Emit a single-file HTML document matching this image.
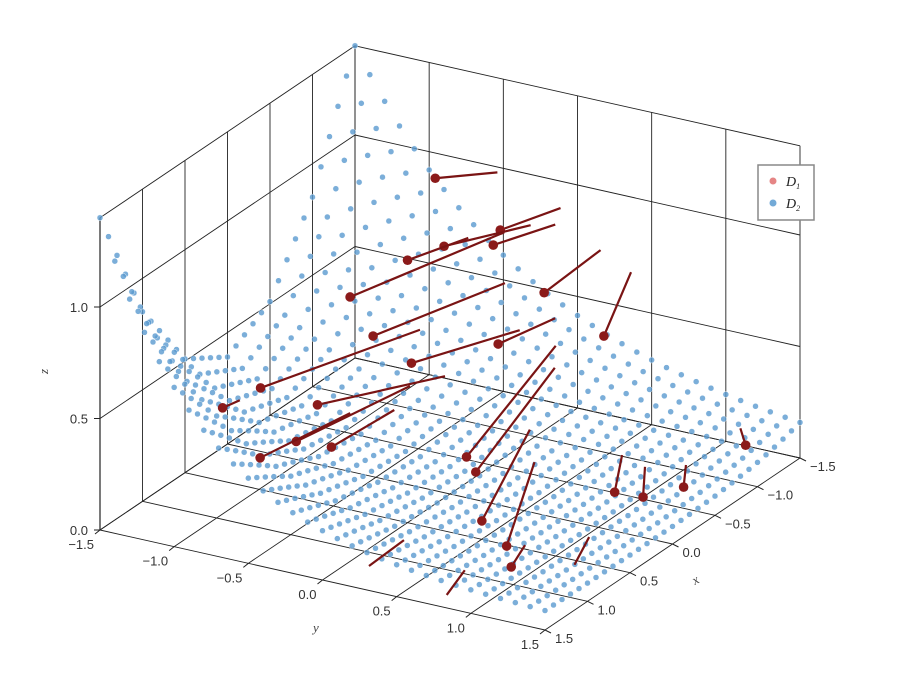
<!DOCTYPE html>
<html><head><meta charset="utf-8"><style>
body{margin:0;background:#fff}
svg{display:block;font-family:"Liberation Sans",sans-serif}
</style></head><body>
<svg id="chart" width="900" height="675" viewBox="0 0 900 675" xmlns="http://www.w3.org/2000/svg">
<g id="grid"></g>
<g id="blue"></g>
<g id="red"></g>
<g id="labels"></g>
<text x="313" y="632" font-family="Liberation Serif" font-style="italic" font-size="13" fill="#444">y</text>
<text x="695" y="585" font-family="Liberation Serif" font-style="italic" font-size="13" fill="#444" transform="rotate(-30 695 585)">x</text>
<text x="48" y="374" font-family="Liberation Serif" font-style="italic" font-size="13" fill="#444" transform="rotate(-90 48 374)">z</text>
<g>
<rect x="758" y="165" width="56" height="55" fill="#fff" stroke="#888" stroke-width="1.5"/>
<circle cx="773" cy="181" r="3.5" fill="#e07070" opacity="0.85"/>
<text x="786" y="186" font-family="Liberation Serif" font-style="italic" font-size="14" fill="#222">D<tspan font-size="8" dy="3">1</tspan></text>
<circle cx="773" cy="203" r="3.5" fill="#5b9bd0" opacity="0.85"/>
<text x="786" y="208" font-family="Liberation Serif" font-style="italic" font-size="14" fill="#222">D<tspan font-size="8" dy="3">2</tspan></text>
</g>
</svg>
<script>
// ---- data ----
const xTicks = [-1.5,-1.0,-0.5,0.0,0.5,1.0,1.5];
const yTicks = [-1.5,-1.0,-0.5,0.0,0.5,1.0,1.5];
const zTicks = [0.0,0.5,1.0];
const zTop = 1.4;
// surface profile anchors (read at x = -1.5,-1,...,1.5)
const anchorX = [-1.5,-1.0,-0.5,0.0,0.5,1.0,1.5];
const ampAtX = [1.33,0.78,0.44,0.32,0.44,0.78,1.33];
const decayAtX = [0.9,1.0,1.1,1.2,1.3,1.4,1.45];
const zFloor = 0.07;
const gridStep = 0.1;
const redX = [-1.17,-0.975,-0.89,-1.05,-0.60,0.05,-1.16,-1.06,-0.09,-0.645,-0.14,0.92,1.0,0.39,0.64,0.61,0.96,0.05,0.22,-0.07,-0.09,-0.34,-1.07,0.55,0.66,0.92,1.18,1.33,0.56];
const redY = [-0.77,-0.22,-0.55,-0.31,-0.63,-0.645,-0.03,0.43,-0.57,-0.045,-0.34,-0.75,-0.96,-0.67,-0.67,-0.45,-0.73,0.14,0.30,1.07,1.25,1.38,1.38,0.53,0.76,0.94,0.13,0.74,1.16];
const redZ = [1.0,0.9,0.8,0.8,0.8,0.8,0.6,0.5,0.6,0.5,0.5,0.6,0.5,0.4,0.3,0.3,0.3,0.2,0.2,0.15,0.15,0.15,0.15,0.1,0.05,0.05,0.0,0.0,0.0];
const endX = [-1.43,-1.44,-1.42,-1.5,-1.07,-1.25,-1.30,-1.10,-1.17,-1.15,-0.89,-0.31,0.85,-0.36,-0.42,-0.06,0.11,-0.79,-0.50,-0.14,-0.20,-0.49,-1.13,0.09,0.21,0.74,1.03,1.10,0.30];
const endY = [-0.50,-0.08,-0.27,-0.15,-0.49,-0.35,0.27,0.59,-0.30,0.05,-0.04,-0.38,-0.93,-0.24,-0.51,-0.41,-0.61,0.26,0.42,1.08,1.20,1.31,1.31,0.59,0.69,0.93,0.28,0.73,1.11];
const endZ = [1.0,0.9,0.8,0.8,0.8,0.8,0.8,0.8,0.6,0.5,0.5,0.6,0.5,0.4,0.3,0.3,0.3,0.5,0.5,0.3,0.25,0.2,0.2,0.4,0.3,0.1,0.1,0.05,0.05];
const redVisible = [1,1,1,1,1,1,1,1,1,1,1,1,1,1,1,1,1,1,1,1,1,1,1,1,1,1,0,0,0];

// ---- projection ----
function proj(x,y,z){
  const u=(y+1.5)/3, v=(1.5-x)/3;
  return [100+445*u+255*v, 530+100*u-172*v-223*z];
}
function lerpAnchor(arr,x){
  const t=(x-anchorX[0])/(anchorX[1]-anchorX[0]);
  const i=Math.max(0,Math.min(anchorX.length-2,Math.floor(t)));
  const f=t-i; return arr[i]*(1-f)+arr[i+1]*f;
}
const NS='http://www.w3.org/2000/svg';
function mk(tag,attrs,parent){const e=document.createElementNS(NS,tag);for(const k in attrs)e.setAttribute(k,attrs[k]);parent.appendChild(e);return e;}
function line(p,q,parent,w,c){return mk('line',{x1:p[0],y1:p[1],x2:q[0],y2:q[1],stroke:c||'#222','stroke-width':w||1},parent);}

const G=document.getElementById('grid');
yTicks.forEach(y=>{const l=line(proj(1.5,y,0),proj(-1.5,y,0),G,0.9);

});
xTicks.forEach(x=>{const l=line(proj(x,-1.5,0),proj(x,1.5,0),G,0.9);

});
yTicks.forEach(y=>{const l=line(proj(-1.5,y,0),proj(-1.5,y,zTop),G,0.9);

});
xTicks.forEach(x=>{const l=line(proj(x,-1.5,0),proj(x,-1.5,zTop),G,0.9);

});
zTicks.concat([zTop]).forEach(z=>{
  const a=line(proj(-1.5,-1.5,z),proj(-1.5,1.5,z),G,0.9);
  
  
  const b=line(proj(1.5,-1.5,z),proj(-1.5,-1.5,z),G,0.9);
  
  
});
const za=line(proj(1.5,-1.5,0),proj(1.5,-1.5,zTop),G,1.2);



const L=document.getElementById('labels');
function fmt(v){return (v<0?'\u2212':'')+Math.abs(v).toFixed(1);}
yTicks.forEach(y=>{const p=proj(1.5,y,0);
  line(p,[p[0]-5,p[1]+4],L,1);
  const t=mk('text',{x:p[0]-6,y:p[1]+19,'text-anchor':'end','font-size':13,fill:'#333'},L);t.textContent=fmt(y);
  
  });
xTicks.forEach(x=>{const p=proj(x,1.5,0);
  line(p,[p[0]+6,p[1]+3],L,1);
  const t=mk('text',{x:p[0]+10,y:p[1]+13,'text-anchor':'start','font-size':13,fill:'#333'},L);t.textContent=fmt(x);
  
  });
zTicks.forEach(z=>{const p=proj(1.5,-1.5,z);
  line(p,[p[0]-6,p[1]],L,1);
  const t=mk('text',{x:p[0]-12,y:p[1]+5,'text-anchor':'end','font-size':13,fill:'#333'},L);t.textContent=fmt(z);
  
  });

// blue surface points
const B=document.getElementById('blue');
const pts=[];
const n=Math.round(3/gridStep);
for(let i=0;i<=n;i++){for(let j=0;j<=n;j++){
  const x=-1.5+i*gridStep, y=-1.5+j*gridStep;
  const z=zFloor+lerpAnchor(ampAtX,x)*Math.exp(-lerpAnchor(decayAtX,x)*(y+1.5));
  pts.push({x,y,z,d:proj(x,y,0)[1]});
}}
pts.sort((a,b)=>a.d-b.d);
pts.forEach(p=>{const s=proj(p.x,p.y,Math.min(p.z,zTop));
  const c=mk('circle',{cx:s[0],cy:s[1],r:3,fill:'#5b9bd0',opacity:0.8,stroke:'#fff','stroke-width':0.5},B);
  
  });

const R=document.getElementById('red');
redX.forEach((x,i)=>{
  const s=proj(x,redY[i],redZ[i]), e=proj(endX[i],endY[i],endZ[i]);
  const l=mk('line',{x1:s[0],y1:s[1],x2:e[0],y2:e[1],stroke:'#7a1414','stroke-width':2.2},R);
  
  
  if(redVisible[i]){
    const c=mk('circle',{cx:s[0],cy:s[1],r:4.8,fill:'#8b1a1a'},R);
    
    
  }
});
</script>
</body></html>
